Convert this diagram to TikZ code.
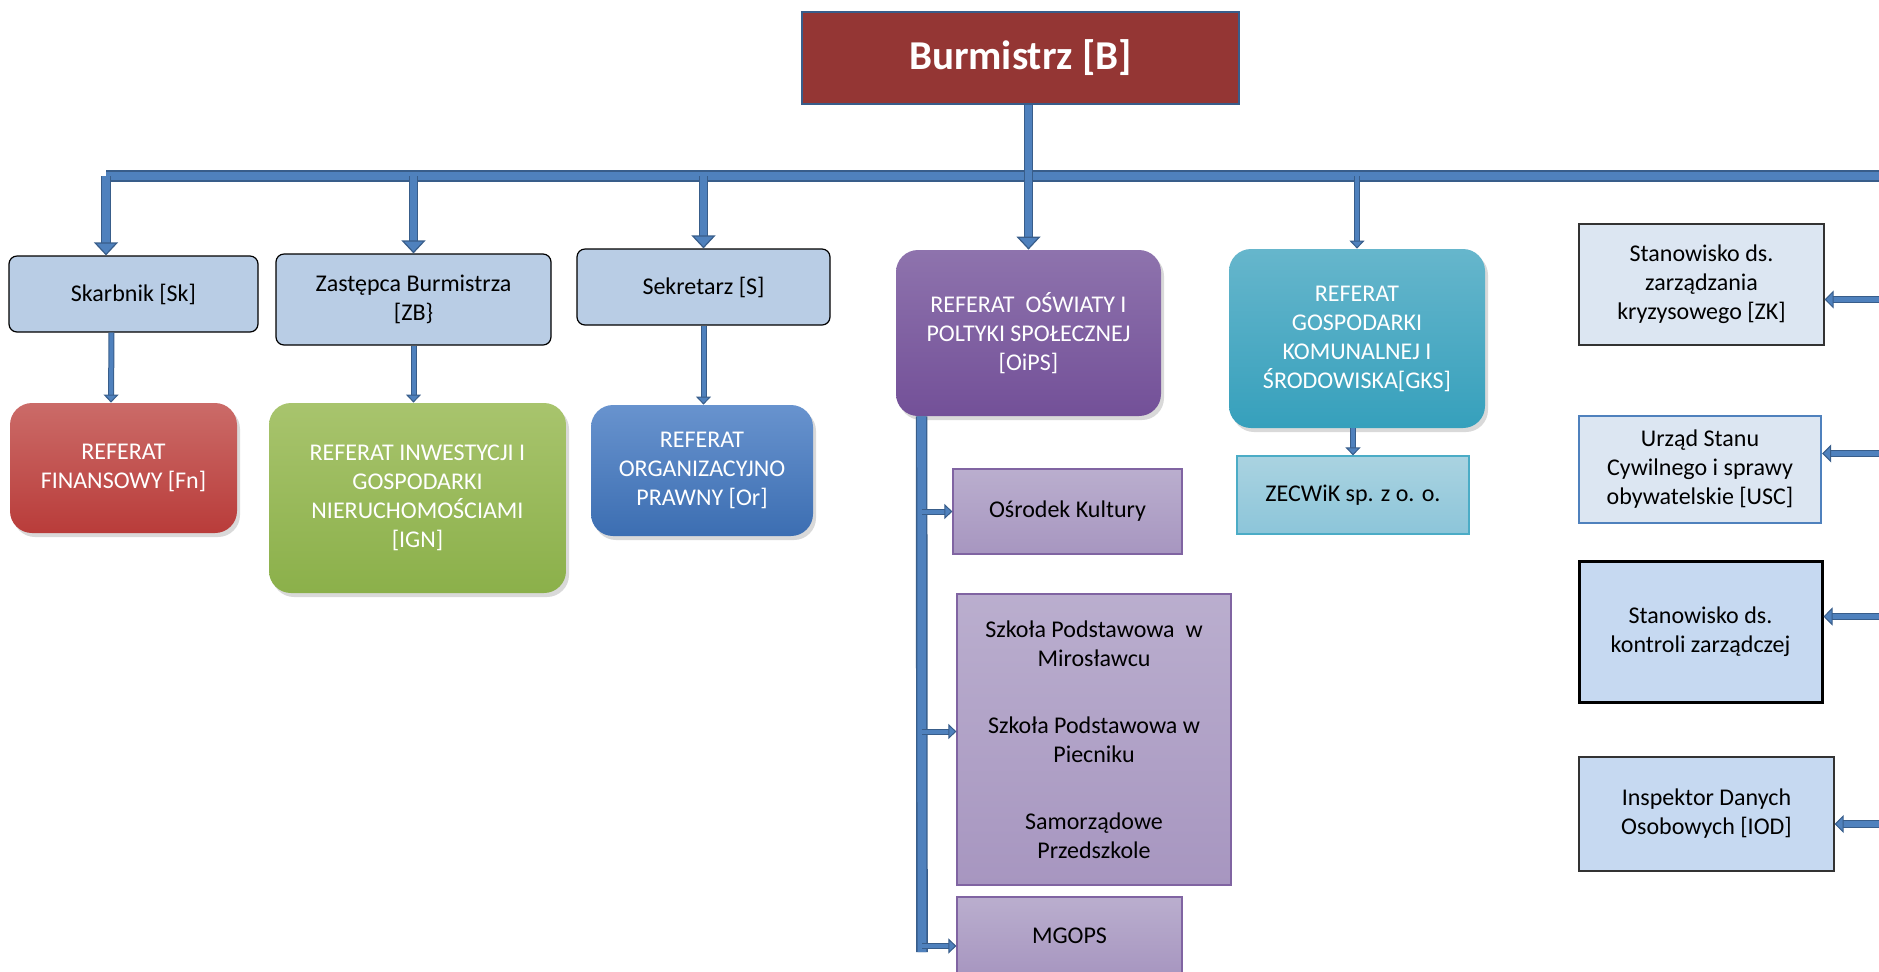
\documentclass[tikz,border=0pt]{standalone}
\usepackage{fontspec}
\setmainfont{Carlito}
\usetikzlibrary{arrows.meta,shadows}

\definecolor{burmred}{HTML}{943634}
\definecolor{arrowblue}{HTML}{4F81BD}
\definecolor{arrowdark}{HTML}{385D8A}
\definecolor{lightfill}{HTML}{B9CDE5}
\definecolor{fntop}{HTML}{CB6B68}
\definecolor{fnbot}{HTML}{B93C3A}
\definecolor{igntop}{HTML}{A8C46D}
\definecolor{ignbot}{HTML}{8BB04A}
\definecolor{ortop}{HTML}{6893CE}
\definecolor{orbot}{HTML}{3C6EB2}
\definecolor{oipstop}{HTML}{8E73AD}
\definecolor{oipsbot}{HTML}{735098}
\definecolor{gkstop}{HTML}{66B6CC}
\definecolor{gksbot}{HTML}{36A0BC}
\definecolor{subtop}{HTML}{BAAECE}
\definecolor{subbot}{HTML}{A796C0}
\definecolor{subline}{HTML}{8064A2}
\definecolor{zectop}{HTML}{AAD3E1}
\definecolor{zecbot}{HTML}{8CC5D9}
\definecolor{zecline}{HTML}{4BACC6}
\definecolor{postpale}{HTML}{DCE6F2}
\definecolor{postfill}{HTML}{C6D9F1}

\tikzstyle{burmbox} = [rectangle, draw=arrowdark, line width=1pt, fill=burmred, text=white, font=\fontsize{20.5}{24}\selectfont\bfseries]
\tikzstyle{lightbox} = [rectangle, rounded corners=4pt, draw=black, line width=0.6pt, fill=lightfill, align=center]
\tikzstyle{refbox} = [rectangle, rounded corners=11pt, align=center, text=white, drop shadow={opacity=0.3, shadow xshift=1.5pt, shadow yshift=-2pt}]
\tikzstyle{subbox} = [rectangle, draw=subline, line width=0.6pt, top color=subtop, bottom color=subbot, align=center]
\tikzstyle{postbox} = [rectangle, draw=black!80, line width=0.6pt, align=center]
\tikzstyle{bar} = [draw=arrowdark, double=arrowblue, line width=0.7pt, double distance=4.4pt]
\tikzstyle{bigarrow} = [draw=arrowdark, double=arrowblue, line width=0.6pt, double distance=3.6pt, -{Triangle[width=12pt,length=6.5pt,fill=arrowblue]}]
\tikzstyle{arrow} = [draw=arrowdark, double=arrowblue, line width=0.5pt, double distance=2pt, -{Triangle[width=7.5pt,length=4pt,fill=arrowblue]}]
\tikzstyle{sidearrow} = [draw=arrowdark, double=arrowblue, line width=0.5pt, double distance=2.6pt, {Triangle[width=9pt,length=4.5pt,fill=arrowblue]}-]

\begin{document}
\begin{tikzpicture}[x=0.5pt, y=-0.5pt, every node/.style={font=\fontsize{12}{14.5}\selectfont}]
	\useasboundingbox (0,0) rectangle (1879,971);

	\node (burm) [burmbox, minimum width=218.5pt, minimum height=46pt] at (1020.5,58) {Burmistrz [B]};

	\node (skarb) [lightbox, minimum width=124.5pt, minimum height=38pt] at (133.5,294) {Skarbnik [Sk]};
	\node (zast) [lightbox, minimum width=137.5pt, minimum height=45.5pt] at (413.5,299.5) {Zastępca Burmistrza\\{[}ZB\}};
	\node (sekr) [lightbox, minimum width=126.5pt, minimum height=38pt] at (703.5,287) {Sekretarz [S]};

	\node (fn) [refbox, top color=fntop, bottom color=fnbot, minimum width=113.5pt, minimum height=65pt] at (123.5,468) {REFERAT\\FINANSOWY [Fn]};
	\node (ign) [refbox, top color=igntop, bottom color=ignbot, minimum width=148.5pt, minimum height=95pt] at (417.5,498) {REFERAT INWESTYCJI I\\GOSPODARKI\\NIERUCHOMOŚCIAMI\\{[}IGN]};
	\node (org) [refbox, top color=ortop, bottom color=orbot, minimum width=111pt, minimum height=65.5pt] at (702,470.5) {REFERAT\\ORGANIZACYJNO\\PRAWNY [Or]};
	\node (oips) [refbox, top color=oipstop, bottom color=oipsbot, minimum width=132.5pt, minimum height=83pt] at (1028.5,333) {REFERAT\ \ OŚWIATY I\\POLTYKI SPOŁECZNEJ\\{[}OiPS]};
	\node (gks) [refbox, top color=gkstop, bottom color=gksbot, minimum width=128pt, minimum height=89.5pt] at (1357,338.5) {REFERAT\\GOSPODARKI\\KOMUNALNEJ I\\ŚRODOWISKA[GKS]};

	\node (zec) [rectangle, draw=zecline, line width=0.6pt, top color=zectop, bottom color=zecbot, minimum width=116pt, minimum height=39pt] at (1353,495) {ZECWiK sp. z o. o.};

	\node (osr) [subbox, minimum width=114.5pt, minimum height=42.5pt] at (1067.5,511.5) {Ośrodek Kultury};
	\node (szk) [subbox, minimum width=137pt, minimum height=145.5pt] at (1094,739.5) {Szkoła Podstawowa\ \ w\\Mirosławcu\\[19pt]Szkoła Podstawowa w\\Piecniku\\[19pt]Samorządowe\\Przedszkole};
	\node (mgops) [subbox, minimum width=112.5pt, minimum height=39pt] at (1069.5,936) {MGOPS};

	\node (zk) [postbox, fill=postpale, minimum width=122.5pt, minimum height=60.5pt] at (1701.5,284.5) {Stanowisko ds.\\zarządzania\\kryzysowego [ZK]};
	\node (usc) [postbox, draw=arrowblue, line width=1.2pt, fill=postpale, minimum width=121pt, minimum height=53.5pt] at (1700,469.5) {Urząd Stanu\\Cywilnego i sprawy\\obywatelskie [USC]};
	\node (kontr) [postbox, draw=black, line width=1.5pt, fill=postfill, minimum width=121.5pt, minimum height=70.5pt] at (1700.5,631.5) {Stanowisko ds.\\kontroli zarządczej};
	\node (iod) [postbox, fill=postfill, minimum width=127.5pt, minimum height=57pt] at (1706.5,814) {Inspektor Danych\\Osobowych [IOD]};

	\coordinate (barL) at (106,176);
	\coordinate (barR) at (1895,176);
	\coordinate (vtop) at ([xshift=13pt]oips.south west);
	\coordinate (vbot) at (922,952);

	\draw [bar] (barL) -- (barR);
	\draw [bigarrow] (burm.south -| oips.north) -- (oips.north);
	\draw [bigarrow] (barL) -- (barL |- skarb.north);
	\draw [bigarrow] (zast.north |- barL) -- (zast.north);
	\draw [bigarrow] (sekr.north |- barL) -- (sekr.north);
	\draw [arrow] (gks.north |- barL) -- (gks.north);

	\draw [arrow] ([xshift=-11pt]skarb.south) -- ([xshift=-6.25pt]fn.north);
	\draw [arrow] (zast.south) -- (zast.south |- ign.north);
	\draw [arrow] (sekr.south) -- (sekr.south |- org.north);
	\draw [arrow] (zec.north |- gks.south) -- (zec.north);

	\draw [bar] (vtop) -- (vbot);
	\draw [arrow] (vtop |- osr.west) -- (osr.west);
	\draw [arrow] ([yshift=4pt]vtop |- szk.west) -- ([yshift=4pt]szk.west);
	\draw [arrow] ([yshift=3pt]vbot) -- ([yshift=3pt]vbot -| mgops.west);

	\draw [sidearrow] ([yshift=-7.5pt]zk.east) -- ++(32pt,0);
	\draw [sidearrow] ([yshift=8pt]usc.east) -- ++(32pt,0);
	\draw [sidearrow] ([yshift=7.5pt]kontr.east) -- ++(32pt,0);
	\draw [sidearrow] ([yshift=-5pt]iod.east) -- ++(32pt,0);
\end{tikzpicture}
\end{document}
